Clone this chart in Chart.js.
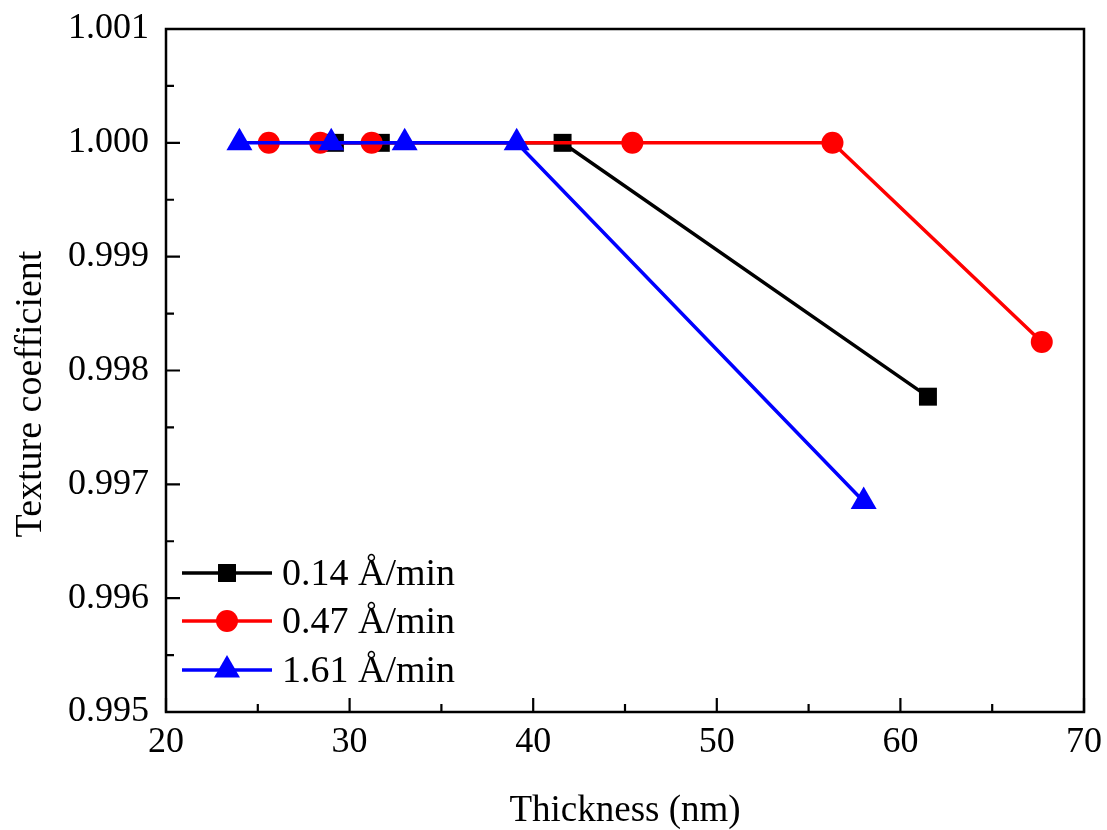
<!DOCTYPE html>
<html lang="en">
<head>
  <meta charset="UTF-8" />
  <title>Texture coefficient vs thickness</title>
  <script src="https://cdn.jsdelivr.net/npm/chart.js"></script>
  <style>
    body { margin: 0; background: #fff; }
    #wrap { width: 1107px; height: 830px; position: relative; }
  </style>
</head>
<body>
  <div id="wrap"><canvas id="grafico"></canvas></div>

  <script>
    // === DATA ===
    const seriesNames = ["0.14 Å/min", "0.47 Å/min", "1.61 Å/min"];

    const thick014 = [29.2, 31.7, 41.6, 61.5];
    const tc014    = [1.000, 1.000, 1.000, 0.99777];

    const thick047 = [25.6, 28.4, 31.2, 45.4, 56.3, 67.7];
    const tc047    = [1.000, 1.000, 1.000, 1.000, 1.000, 0.99825];

    const thick161 = [24.0, 29.0, 33.0, 39.1, 58.0];
    const tc161    = [1.000, 1.000, 1.000, 1.000, 0.99685];

    const xTicks = [20, 30, 40, 50, 60, 70];
    const yTicks = [0.995, 0.996, 0.997, 0.998, 0.999, 1.000, 1.001];

    const FONT = "'Liberation Serif', 'Times New Roman', serif";

    function pares(xs, ys) {
      return xs.map((x, i) => ({ x: x, y: ys[i] }));
    }

    // marcador simples (quadrado, círculo, triângulo)
    function marcador(ctx, estilo, x, y, r, cor) {
      ctx.save();
      ctx.fillStyle = cor;
      ctx.beginPath();
      if (estilo === "rect") {
        const s = Math.SQRT1_2 * r;
        ctx.rect(x - s, y - s, 2 * s, 2 * s);
      } else if (estilo === "circle") {
        ctx.arc(x, y, r, 0, Math.PI * 2);
      } else {
        ctx.moveTo(x, y - r);
        ctx.lineTo(x + r * Math.sin(Math.PI / 3), y + r / 2);
        ctx.lineTo(x - r * Math.sin(Math.PI / 3), y + r / 2);
        ctx.closePath();
      }
      ctx.fill();
      ctx.restore();
    }

    const series = [
      { nome: seriesNames[0], cor: "#000000", estilo: "rect", raio: 12.7, data: pares(thick014, tc014), order: 3 },
      { nome: seriesNames[1], cor: "#ff0000", estilo: "circle", raio: 11, data: pares(thick047, tc047), order: 2 },
      { nome: seriesNames[2], cor: "#0000ff", estilo: "triangle", raio: 15, data: pares(thick161, tc161), order: 1 }
    ];

    // === PLUGIN: moldura, ticks internos, títulos e legenda ===
    const extras = {
      id: "extras",
      afterDraw(chart) {
        const ctx = chart.ctx;
        const a = chart.chartArea;
        const sx = chart.scales.x, sy = chart.scales.y;
        ctx.save();
        ctx.strokeStyle = "#000";
        ctx.lineWidth = 2.5;
        ctx.strokeRect(a.left, a.top, a.right - a.left, a.bottom - a.top);

        // ticks para dentro
        ctx.lineWidth = 2.2;
        ctx.beginPath();
        for (let i = 0; i < xTicks.length; i++) {
          const px = sx.getPixelForValue(xTicks[i]);
          ctx.moveTo(px, a.bottom); ctx.lineTo(px, a.bottom - 14);
          if (i < xTicks.length - 1) {
            const pm = sx.getPixelForValue((xTicks[i] + xTicks[i + 1]) / 2);
            ctx.moveTo(pm, a.bottom); ctx.lineTo(pm, a.bottom - 8);
          }
        }
        for (let i = 0; i < yTicks.length; i++) {
          const py = sy.getPixelForValue(yTicks[i]);
          ctx.moveTo(a.left, py); ctx.lineTo(a.left + 14, py);
          if (i < yTicks.length - 1) {
            const pm = sy.getPixelForValue((yTicks[i] + yTicks[i + 1]) / 2);
            ctx.moveTo(a.left, pm); ctx.lineTo(a.left + 8, pm);
          }
        }
        ctx.stroke();

        // títulos dos eixos
        ctx.fillStyle = "#000";
        ctx.font = "37px " + FONT;
        ctx.textAlign = "center";
        ctx.textBaseline = "alphabetic";
        ctx.fillText("Thickness (nm)", (a.left + a.right) / 2, 821);
        ctx.save();
        ctx.font = "38px " + FONT;
        ctx.translate(41, 394);
        ctx.rotate(-Math.PI / 2);
        ctx.fillText("Texture coefficient", 0, 0);
        ctx.restore();

        // legenda
        const linhasY = [573, 621, 670];
        ctx.font = "38px " + FONT;
        ctx.textAlign = "left";
        ctx.textBaseline = "middle";
        series.forEach((s, i) => {
          const y = linhasY[i];
          ctx.strokeStyle = s.cor;
          ctx.lineWidth = 3.5;
          ctx.beginPath();
          ctx.moveTo(182, y); ctx.lineTo(272, y);
          ctx.stroke();
          marcador(ctx, s.estilo, 227, y, s.raio, s.cor);
          ctx.fillStyle = "#000";
          ctx.fillText(s.nome, 282, y + 2);
        });
        ctx.restore();
      }
    };

    new Chart(document.getElementById("grafico"), {
      type: "line",
      data: {
        datasets: series.map(s => ({
          label: s.nome,
          data: s.data,
          order: s.order,
          borderColor: s.cor,
          backgroundColor: s.cor,
          borderWidth: 3.5,
          pointStyle: s.estilo,
          pointRadius: s.raio,
          pointBorderWidth: 0,
          pointBackgroundColor: s.cor,
          tension: 0,
          fill: false
        }))
      },
      options: {
        responsive: true,
        maintainAspectRatio: false,
        animation: false,
        layout: { padding: { left: 0, top: 29, right: 23, bottom: 0 } },
        plugins: {
          legend: { display: false },
          tooltip: { enabled: false }
        },
        scales: {
          x: {
            type: "linear",
            min: 20,
            max: 70,
            afterFit: s => {
              s.height = 118;
              s.paddingLeft = 0; s.paddingRight = 0;
            },
            afterBuildTicks: s => { s.ticks = xTicks.map(v => ({ value: v })); },
            grid: { display: false, drawTicks: false },
            border: { display: false },
            ticks: {
              color: "#000",
              padding: 9,
              maxRotation: 0,
              font: { family: FONT, size: 36 },
              callback: v => String(v)
            }
          },
          y: {
            type: "linear",
            min: 0.995,
            max: 1.001,
            afterFit: s => {
              s.width = 166;
              s.paddingTop = 0; s.paddingBottom = 0;
            },
            afterBuildTicks: s => { s.ticks = yTicks.map(v => ({ value: v })); },
            grid: { display: false, drawTicks: false },
            border: { display: false },
            ticks: {
              color: "#000",
              padding: 17,
              font: { family: FONT, size: 36 },
              callback: v => Number(v).toFixed(3)
            }
          }
        }
      },
      plugins: [extras]
    });
  </script>
</body>
</html>
